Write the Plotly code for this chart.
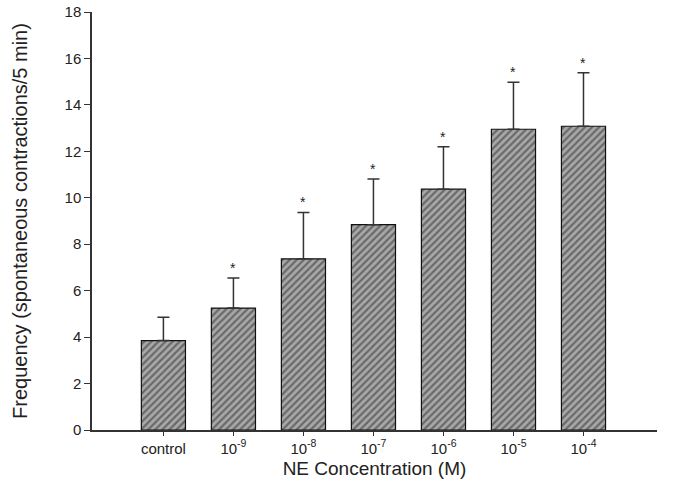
import plotly.graph_objects as go

categories = ["control", "10<sup>-9</sup>", "10<sup>-8</sup>", "10<sup>-7</sup>",
              "10<sup>-6</sup>", "10<sup>-5</sup>", "10<sup>-4</sup>"]
means = [3.85, 5.25, 7.37, 8.84, 10.37, 12.95, 13.08]
sems = [1.0, 1.3, 2.0, 1.97, 1.83, 2.03, 2.3]
significant = [False, True, True, True, True, True, True]

x = list(range(len(categories)))

fig = go.Figure()
fig.add_trace(go.Bar(
    x=x, y=means, width=0.63,
    marker=dict(color="#a0a0a0", line=dict(color="#111111", width=1.2),
                pattern=dict(shape="/", fgcolor="#2a2a2a", bgcolor="#a8a8a8",
                             size=5, solidity=0.45)),
    error_y=dict(type="data", array=sems, arrayminus=[0]*len(sems), symmetric=False,
                 color="#333333", thickness=1.5, width=6),
    showlegend=False,
))

for xi, m, s, sig in zip(x, means, sems, significant):
    if sig:
        fig.add_annotation(x=xi, y=m + s, text="*", showarrow=False, yshift=10,
                           font=dict(size=14, color="#222222"))

fig.update_layout(
    width=683, height=484,
    margin=dict(l=92, r=26, t=12, b=54, autoexpand=False),
    plot_bgcolor="white", paper_bgcolor="white",
    font=dict(family="Liberation Sans, Arial, sans-serif", color="#222222"),
    xaxis=dict(range=[-1.02, 7.05], tickmode="array", tickvals=x, ticktext=categories,
               showline=True, linecolor="#333333", linewidth=1.5, ticks="outside",
               ticklen=4, tickcolor="#333333", tickfont=dict(size=15), showgrid=False,
               zeroline=False, automargin=False,
               title=dict(text="NE Concentration (M)", font=dict(size=19), standoff=6)),
    yaxis=dict(range=[0, 18], dtick=2, showline=True, linecolor="#333333", linewidth=1.5,
               ticks="outside", ticklen=6, tickcolor="#333333", tickfont=dict(size=15),
               showgrid=False, zeroline=False, automargin=False,
               title=dict(text="Frequency (spontaneous contractions/5 min)",
                          font=dict(size=20), standoff=32)),
)

fig.write_html("out.html")
